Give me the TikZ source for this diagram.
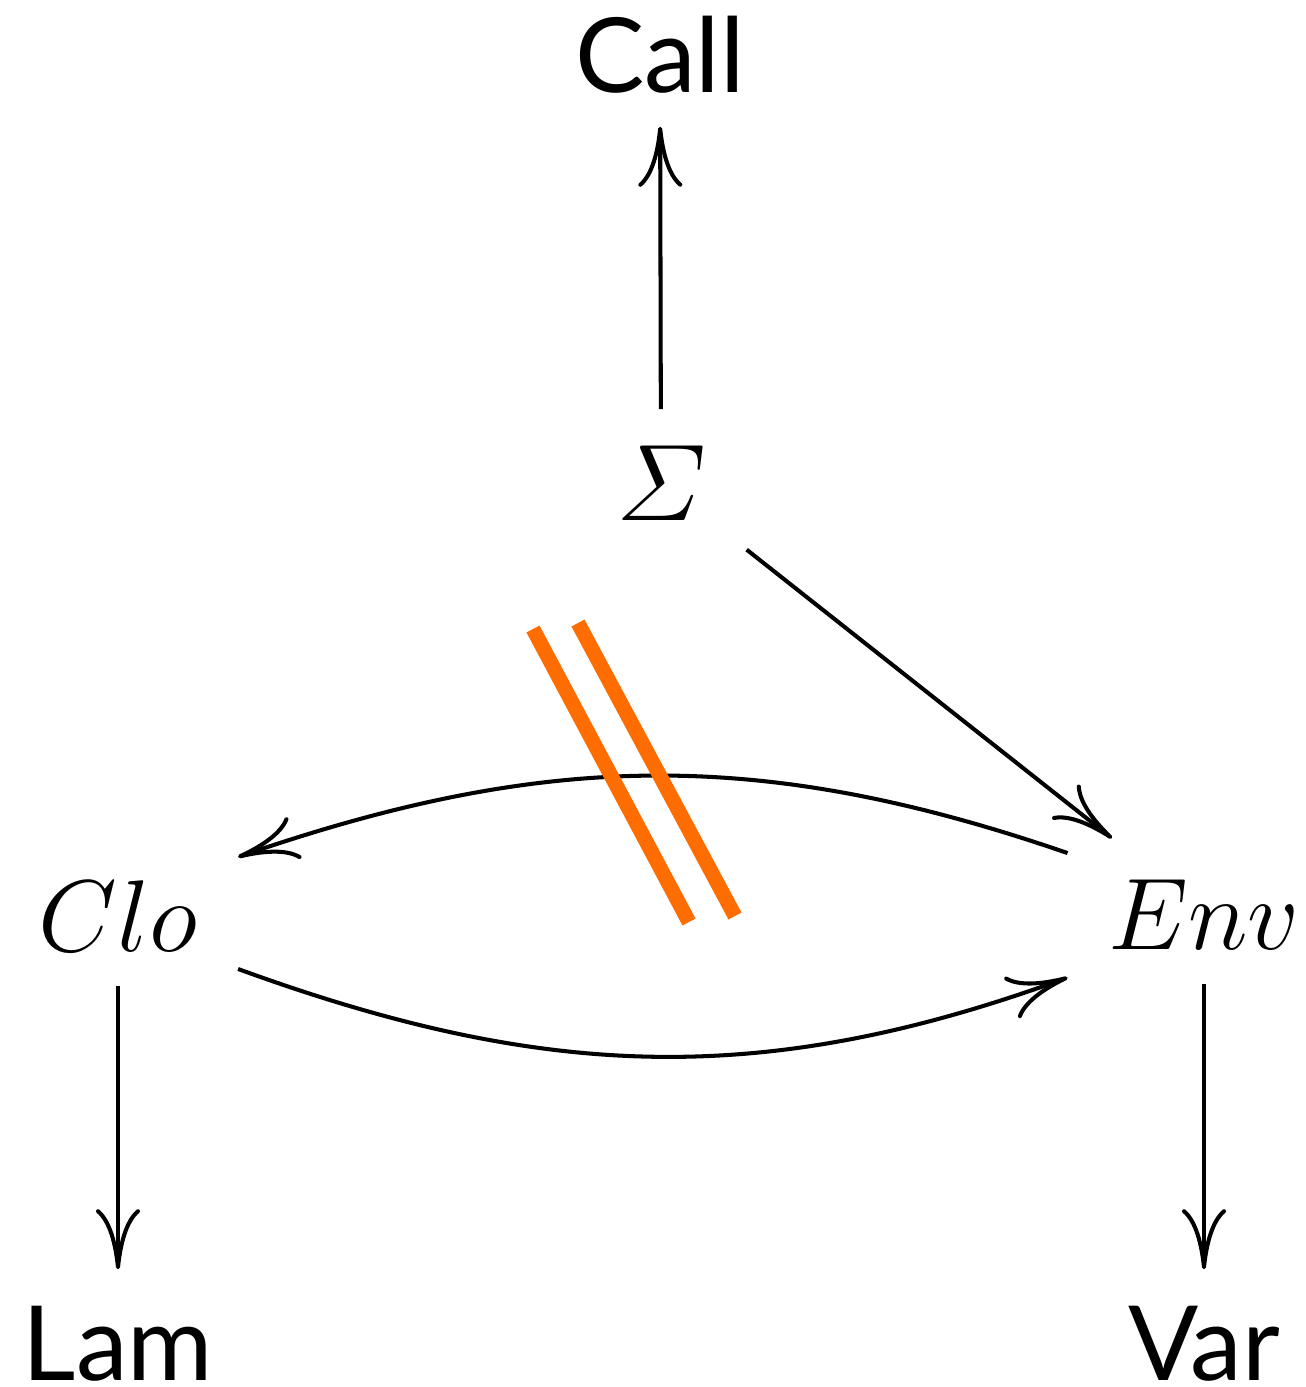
\RequirePackage{fix-cm}
\documentclass[tikz,border=0pt]{standalone}
\usepackage{fontspec}
\newfontfamily\lato{Lato}
\usetikzlibrary{arrows.meta}
\begin{document}
\begin{tikzpicture}[x=0.01cm,y=-0.01cm,
  obj/.style={anchor=base,inner xsep=0.4cm,inner ysep=0.34cm,text height=0.76cm,text depth=0pt,font=\fontsize{29}{34}\selectfont},
  sans/.style={font=\fontsize{29.5}{34}\selectfont\lato},
  arr/.style={line width=1.15pt,-{Computer Modern Rightarrow[length=0.6cm,width=0.44cm,line width=1.15pt]}},
  bar/.style={line width=4.2pt,draw={rgb,255:red,255;green,108;blue,0}}]
\useasboundingbox (0,0) rectangle (1305,1387);
\node[obj,sans] (call) at (660,92) {Call};
\node[obj,font=\fontsize{31}{36}\selectfont] (sig) at (661,520) {$\mathchar"0106$};
\node[obj] (clo) at (118,951) {$Clo$};
\node[obj] (env) at (1204,949) {$Env$};
\node[obj,sans] (lam) at (118,1380) {Lam};
\node[obj,sans] (var) at (1204,1380) {Var};
\draw[arr] (sig) -- (call);
\draw[arr] (sig) -- (env);
\draw[arr] (env.157) to[out=161,in=19] (clo.25);
\draw[arr] (clo.-25) to[out=-20,in=200] (env.206);
\draw[arr] (clo) -- (lam);
\draw[arr] (env) -- (var);
\draw[bar] (533,629) -- (689,922);
\draw[bar] (578,623) -- (735,916);
\end{tikzpicture}
\end{document}
